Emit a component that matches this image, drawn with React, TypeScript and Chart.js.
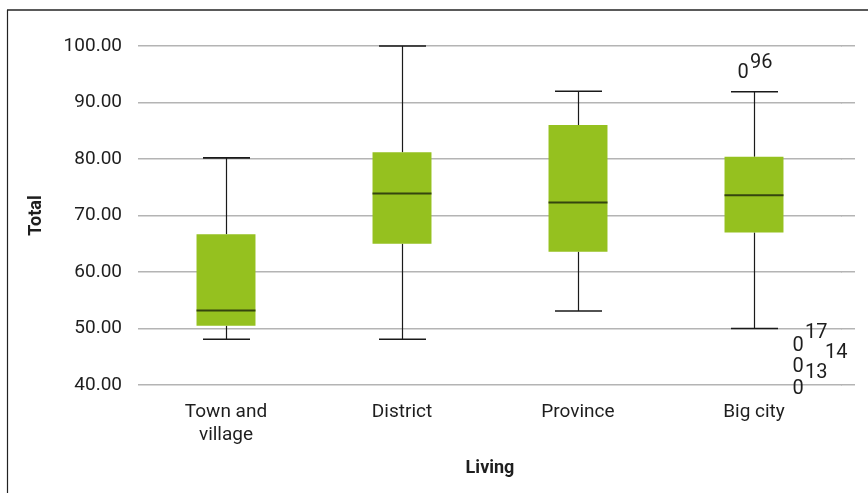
import React, { useEffect, useRef } from 'react';
import { Chart, registerables } from 'chart.js';

Chart.register(...registerables);

// ---- data ----
const categories: (string | string[])[] = [['Town and', 'village'], 'District', 'Province', 'Big city'];
const whiskerLow = [48.1, 48.1, 53.1, 50.0];
const q1 = [50.5, 65.0, 63.6, 67.0];
const medians = [53.2, 73.9, 72.3, 73.6];
const q3 = [66.7, 81.2, 86.0, 80.4];
const whiskerHigh = [80.2, 100.0, 92.0, 91.9];

// outliers (SPSS-style "0" markers with case numbers) – all in "Big city"
const outlierCategory = [3, 3, 3, 3];
const outlierValues = [95.2, 46.9, 43.2, 39.3];
const outlierCases = ['96', '17', '13', ''];
// a case number whose marker is overprinted
const extraCaseValues = [45.7];
const extraCases = ['14'];

const yMin = 40;
const yMax = 100;
const yStep = 10;
const xTitle = 'Living';
const yTitle = 'Total';

// ---- styles ----
const FONT = 'Roboto, "Liberation Sans", sans-serif';
const BOX = '#95c11f';
const GRID = '#b4b4b4';
const TEXT = '#1e1e1e';

function alignPixel(pixel: number, width: number) {
  const half = width / 2;
  return Math.round(pixel - half) + half;
}

const extrasPlugin = {
  id: 'boxExtras',
  beforeDatasetsDraw(chart: any) {
    const { ctx, chartArea, scales } = chart;
    const y = scales.y;
    const x = scales.x;
    ctx.save();
    // extend gridlines a little beyond the plot area (as in reference)
    ctx.strokeStyle = GRID;
    ctx.lineWidth = 1.5;
    for (let v = yMin; v <= yMax; v += yStep) {
      const py = alignPixel(y.getPixelForValue(v), 1.5);
      ctx.beginPath();
      ctx.moveTo(chartArea.right - 1, py);
      ctx.lineTo(chartArea.right + 13, py);
      ctx.stroke();
    }
    // whiskers and caps
    ctx.strokeStyle = '#1a1a1a';
    const capHalf = 23.5;
    for (let i = 0; i < categories.length; i++) {
      const cx = Math.round(x.getPixelForValue(i)) + 0.5;
      const yl = y.getPixelForValue(whiskerLow[i]);
      const yh = y.getPixelForValue(whiskerHigh[i]);
      const yq1 = y.getPixelForValue(q1[i]);
      const yq3 = y.getPixelForValue(q3[i]);
      ctx.lineWidth = 1.2;
      ctx.beginPath();
      ctx.moveTo(cx, yh);
      ctx.lineTo(cx, yq3);
      ctx.moveTo(cx, yq1);
      ctx.lineTo(cx, yl);
      ctx.stroke();
      ctx.lineWidth = 1.6;
      ctx.beginPath();
      ctx.moveTo(cx - capHalf, yh);
      ctx.lineTo(cx + capHalf, yh);
      ctx.moveTo(cx - capHalf, yl);
      ctx.lineTo(cx + capHalf, yl);
      ctx.stroke();
    }
    ctx.restore();
  },
  afterDatasetsDraw(chart: any) {
    const { ctx, scales } = chart;
    const y = scales.y;
    const x = scales.x;
    const meta = chart.getDatasetMeta(0);
    ctx.save();
    // medians
    ctx.strokeStyle = '#34450f';
    ctx.lineWidth = 2;
    for (let i = 0; i < categories.length; i++) {
      const bar = meta.data[i];
      const half = bar.width / 2;
      const py = y.getPixelForValue(medians[i]);
      ctx.beginPath();
      ctx.moveTo(bar.x - half, py);
      ctx.lineTo(bar.x + half, py);
      ctx.stroke();
    }
    // outliers
    ctx.fillStyle = TEXT;
    ctx.font = `20px ${FONT}`;
    ctx.textBaseline = 'middle';
    const markerDx = [-11, 44, 44, 44];
    const labelDy = [-10, -13, 6, 0];
    for (let k = 0; k < outlierValues.length; k++) {
      const cx = x.getPixelForValue(outlierCategory[k]) + markerDx[k];
      const py = y.getPixelForValue(outlierValues[k]);
      ctx.textAlign = 'center';
      ctx.fillText('0', cx, py);
      if (outlierCases[k]) {
        ctx.textAlign = 'left';
        ctx.fillText(outlierCases[k], cx + 7, py + labelDy[k]);
      }
    }
    for (let k = 0; k < extraCases.length; k++) {
      const cx = x.getPixelForValue(3) + 44;
      const py = y.getPixelForValue(extraCaseValues[k]);
      ctx.textAlign = 'left';
      ctx.fillText(extraCases[k], cx + 27, py);
    }
    ctx.restore();
  },
  afterDraw(chart: any) {
    const { ctx } = chart;
    ctx.save();
    ctx.strokeStyle = '#5a5a5a';
    ctx.lineWidth = 2;
    ctx.beginPath();
    ctx.moveTo(7, 10);
    ctx.lineTo(868, 10);
    ctx.stroke();
    ctx.strokeStyle = '#222';
    ctx.lineWidth = 1.2;
    ctx.beginPath();
    ctx.moveTo(7.5, 10);
    ctx.lineTo(7.5, 493);
    ctx.stroke();
    ctx.restore();
  },
};

export default function App() {
  const ref = useRef<HTMLCanvasElement | null>(null);
  useEffect(() => {
    if (!ref.current) return;
    const chart = new Chart(ref.current, {
      type: 'bar',
      data: {
        labels: categories as any,
        datasets: [
          {
            data: q1.map((v, i) => [v, q3[i]]) as any,
            backgroundColor: BOX,
            borderWidth: 0,
            barPercentage: 1,
            categoryPercentage: 0.335,
          },
        ],
      },
      options: {
        responsive: false,
        animation: false,
        layout: { padding: { left: 0, top: 46, right: 26, bottom: 0 } },
        plugins: {
          legend: { display: false },
          tooltip: { enabled: false },
        },
        scales: {
          x: {
            grid: { display: false },
            border: { display: false },
            ticks: {
              color: TEXT,
              font: { family: FONT, size: 19, lineHeight: 1.2 },
              padding: 8,
              maxRotation: 0,
              autoSkip: false,
            },
            title: {
              display: true,
              text: xTitle,
              color: TEXT,
              font: { family: FONT, size: 18, weight: 'bold', lineHeight: 1.2 },
              padding: { top: 0, bottom: 14 },
            },
            afterFit: (s: any) => {
              s.height = 108;
            },
          },
          y: {
            min: yMin,
            max: yMax,
            grid: { color: GRID, lineWidth: 1.5, drawTicks: false },
            border: { display: false },
            ticks: {
              stepSize: yStep,
              color: TEXT,
              font: { family: FONT, size: 19 },
              padding: 16,
              callback: (v: any) => Number(v).toFixed(2),
            },
            title: {
              display: true,
              text: yTitle,
              color: TEXT,
              font: { family: FONT, size: 18, weight: 'bold', lineHeight: 1.2 },
              padding: { top: 26, bottom: 0 },
            },
            afterFit: (s: any) => {
              s.width = 138;
            },
          },
        },
      },
      plugins: [extrasPlugin],
    });
    return () => chart.destroy();
  }, []);
  return (
    <div style={{ position: 'absolute', left: 0, top: 0, width: 868, height: 493, background: '#fff' }}>
      <canvas ref={ref} width={868} height={493} style={{ display: 'block' }} />
    </div>
  );
}
